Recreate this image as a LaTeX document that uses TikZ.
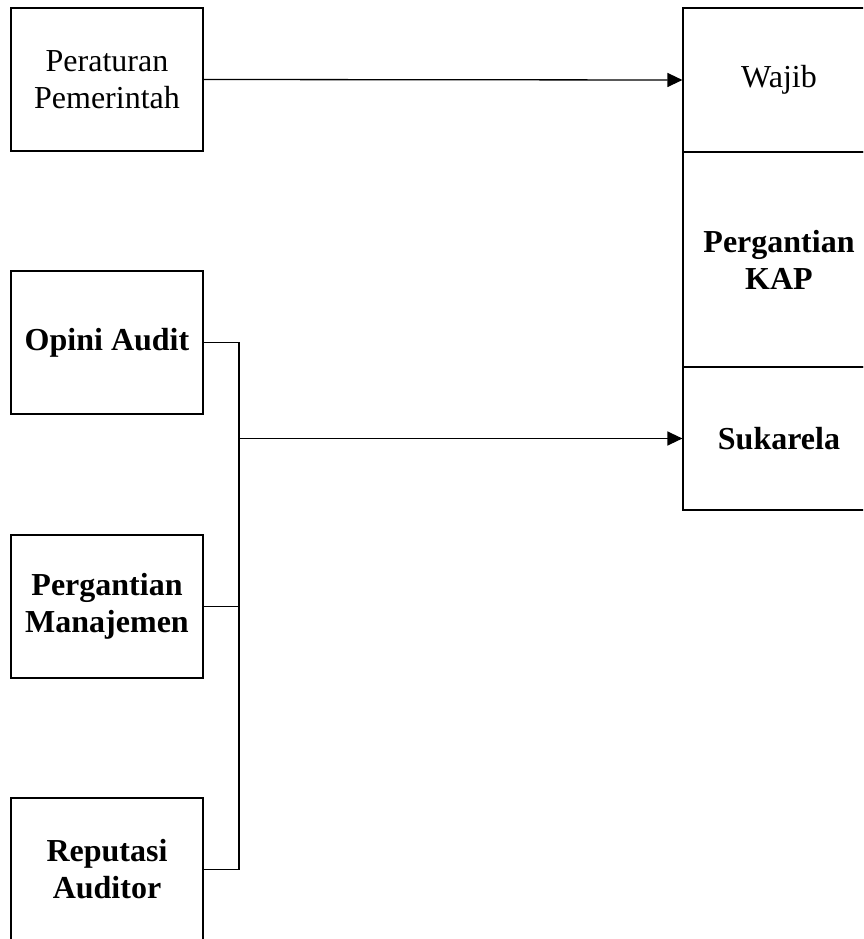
\documentclass[tikz,border=0pt]{standalone}
\usepackage{fontspec}
\setmainfont{Liberation Serif}
\usetikzlibrary{arrows.meta}
\begin{document}
\begin{tikzpicture}[x=1pt,y=-1pt,
  box/.style={draw, line width=1.2pt, minimum width=192pt, align=center, inner sep=0pt,
    font=\fontsize{32}{37}\selectfont},
  conn/.style={line width=1.3pt},
  arr/.style={line width=1.3pt, -{Triangle[length=15pt,width=14pt]}}]
\useasboundingbox (0,0) rectangle (863,939);
\clip (0,0) rectangle (863,939);
\fill[white] (0,0) rectangle (863,939);
% left boxes
\node[box, minimum height=143pt] (per) at (107,79.5) {Peraturan\\Pemerintah};
\node[box, minimum height=143pt] (opi) at (107,342.5) {\bfseries Opini Audit};
\node[box, minimum height=143pt] (man) at (107,606.5) {\bfseries Pergantian\\\bfseries Manajemen};
\node[box, minimum height=143pt] (rep) at (107,869.5) {\bfseries Reputasi\\\bfseries Auditor};
% right column
\node[box, minimum height=144pt] (waj) at (779,80) {Wajib};
\node[box, minimum height=215pt] (kap) at (779,259.5) {\bfseries Pergantian\\\bfseries KAP};
\node[box, minimum height=143pt] (suk) at (779,438.5) {\bfseries Sukarela};
% connectors
\coordinate (jb) at (239,869.5);
\coordinate (jm) at (239,438.5);
\draw[arr] (per.east) -- (waj.west);
\draw[conn] (opi.east) -| (jb) -- (rep.east);
\draw[conn] (man.east) -- (man.east -| jb);
\draw[arr] (jm) -- (suk.west);
\end{tikzpicture}
\end{document}
